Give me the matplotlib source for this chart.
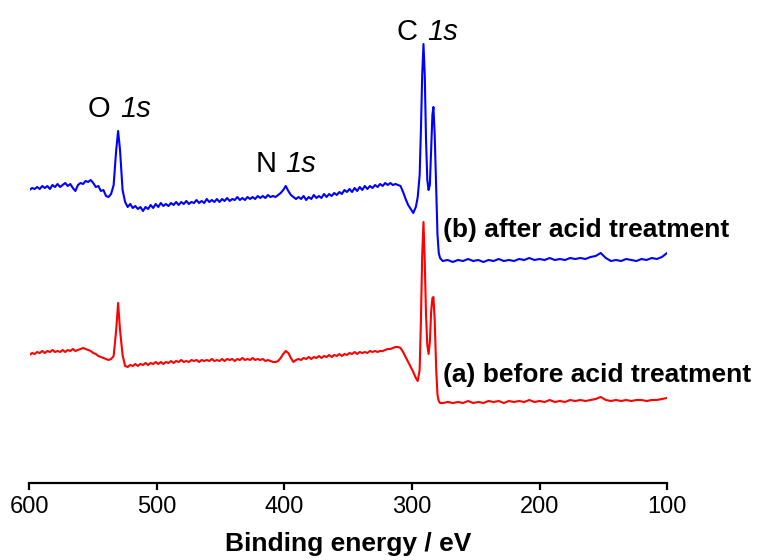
import matplotlib
matplotlib.use("Agg")
import matplotlib.pyplot as plt

plt.rcParams['font.family'] = ['Liberation Sans', 'DejaVu Sans']

# Binding energy grid (eV), shared by both spectra
energy = [
    600, 598, 596, 594, 592, 590, 588, 586, 584, 582, 580, 578, 576, 574, 572, 570,
    568, 566, 564, 562, 560, 558, 556, 554, 552, 550, 548, 546, 544, 542, 540, 538, 536,
    534, 532, 530.5, 529, 527, 525,
    523, 521, 519, 517, 515, 513, 511, 509, 507, 505,
    503, 501, 499, 497, 495, 493, 491, 489, 487, 485,
    483, 481, 479, 477, 475, 473, 471, 469, 467, 465,
    463, 461, 459, 457, 455, 453, 451, 449, 447, 445,
    443, 441, 439, 437, 435, 433, 431, 429, 427, 425,
    423, 421, 419, 417, 415, 413, 411, 409, 407, 405,
    403, 401, 399, 397, 395, 393, 391, 389, 387, 385,
    383, 381, 379, 377, 375, 373, 371, 369, 367, 365,
    363, 361, 359, 357, 355, 353, 351, 349, 347, 345,
    343, 341, 339, 337, 335, 333, 331, 329, 327, 325,
    323, 321, 319, 317, 315, 313, 311, 309, 307, 305,
    303, 301,
    299, 297, 295.5, 294, 293, 292, 291, 290, 289, 288,
    287, 286, 285, 284, 283.2, 282.2, 281, 280, 279, 278,
    276, 272, 268, 264, 260, 256, 252, 248, 244, 240,
    236, 232, 228, 224, 220, 216, 212, 208, 204, 200,
    196, 192, 188, 184, 180, 176, 172, 168, 164, 160,
    156, 152, 148, 144, 140, 136, 132, 128, 124, 120,
    116, 112, 108, 104, 100,
]

# (b) after acid treatment - intensity (arb. units, offset)
after_raw = [
    190, 188, 189, 187, 189, 186, 188, 186, 189, 185, 187, 184, 187, 185, 183, 186,
    184, 188, 191, 185, 183, 184, 181, 182, 180, 183, 187, 186, 191, 190, 196, 197, 194,
    185, 150, 131, 150, 190, 202,
    207, 204, 208, 206, 209, 207, 211, 207, 209, 205,
    208, 204, 207, 203, 206, 204, 206, 203, 205, 202,
    205, 202, 204, 201, 204, 202, 203, 200, 203, 201,
    203, 199, 202, 200, 202, 199, 202, 199, 201, 198,
    201, 199, 200, 197, 200, 198, 200, 197, 199, 197,
    199, 196, 198, 196, 198, 195, 197, 196, 197, 195,
    193, 190, 186, 191, 195, 197, 199, 197, 199, 196,
    200, 197, 199, 195, 198, 196, 198, 194, 197, 194,
    196, 193, 195, 192, 194, 190, 192, 189, 192, 188,
    191, 187, 190, 186, 189, 186, 188, 185, 187, 184,
    186, 183, 185, 183, 185, 184, 185, 186, 192, 199,
    205, 209,
    213, 207, 197, 175, 130, 75, 44, 75, 140, 180,
    190, 185, 150, 115, 107, 135, 190, 235, 253, 258,
    261, 260, 262, 260, 261, 259, 261, 260, 262, 260,
    261, 259, 261, 260, 261, 259, 260, 258, 260, 259,
    260, 258, 260, 259, 260, 258, 259, 258, 259, 257,
    256, 253, 258, 261, 260, 261, 259, 260, 261, 259,
    260, 258, 259, 257, 253,
]

# (a) before acid treatment - intensity (arb. units, offset)
before_raw = [
    355, 353, 354, 352, 353, 351, 353, 351, 352, 350, 352, 351, 352, 350, 352, 350,
    351, 349, 351, 350, 349, 348, 349, 350, 351, 353, 354, 356, 357, 358, 359, 360, 359,
    356, 330, 303, 330, 355, 366,
    367, 365, 366, 364, 366, 364, 365, 363, 365, 363,
    364, 362, 364, 362, 364, 362, 363, 361, 363, 361,
    362, 360, 362, 361, 362, 360, 361, 360, 362, 360,
    361, 360, 361, 359, 361, 360, 361, 359, 361, 359,
    360, 359, 361, 359, 360, 358, 360, 359, 360, 358,
    360, 359, 360, 359, 361, 360, 361, 362, 362, 361,
    358, 354, 351, 353, 358, 362, 360, 359, 360, 358,
    359, 357, 359, 357, 358, 356, 358, 356, 357, 355,
    357, 355, 356, 354, 356, 354, 355, 353, 354, 352,
    354, 352, 353, 352, 353, 351, 352, 351, 352, 351,
    351, 350, 349, 349, 348, 347, 347, 348, 352, 357,
    362, 367,
    372, 378, 381, 370, 320, 255, 222, 262, 315, 345,
    354, 342, 312, 298, 297, 320, 370, 395, 401, 403,
    403, 402, 403, 402, 403, 401, 403, 402, 403, 401,
    402, 401, 403, 401, 402, 401, 402, 400, 402, 401,
    402, 400, 402, 401, 402, 400, 401, 400, 401, 400,
    399, 397, 400, 401, 400, 401, 400, 401, 400, 400,
    401, 400, 400, 399, 398,
]

assert len(energy) == len(after_raw) == len(before_raw)
intensity_after = [483 - v for v in after_raw]
intensity_before = [483 - v for v in before_raw]

xticks = [600, 500, 400, 300, 200, 100]

fig = plt.figure(figsize=(7.58, 5.6), dpi=100)
ax = fig.add_axes([29.5 / 758, 1 - 483 / 560, (667 - 29.5) / 758, 463 / 560])

ax.plot(energy, intensity_after, color='#0000ff', lw=1.5)
ax.plot(energy, intensity_before, color='#ff0000', lw=1.5)

ax.set_xlim(600, 100)
ax.set_ylim(0, 463)

for s in ['top', 'right', 'left']:
    ax.spines[s].set_visible(False)
ax.spines['bottom'].set_linewidth(1.6)
ax.set_yticks([])
ax.set_xticks(xticks)
ax.set_xticklabels([str(t) for t in xticks])
ax.tick_params(axis='x', direction='out', length=5, width=1.6, labelsize=17, pad=4.5)
ax.set_xlabel('Binding energy / eV', fontsize=19, fontweight='bold', labelpad=10)

peak_labels = [('O', 554.1, 366, 23.5), ('N', 422.4, 311, 21.0), ('C', 311.8, 443, 22.0)]
for elem, x, y, dx in peak_labels:
    ax.text(x, y, elem, fontsize=21, ha='left', va='baseline')
    ax.annotate('1s', xy=(x, y), xytext=(dx, 0), textcoords='offset points',
                fontsize=21, style='italic', ha='left', va='baseline')

ax.text(275.7, 246, '(b) after acid treatment', fontsize=19, fontweight='bold',
        ha='left', va='baseline')
ax.text(275.7, 101, '(a) before acid treatment', fontsize=19, fontweight='bold',
        ha='left', va='baseline')

fig.savefig('out.png', dpi=100)
